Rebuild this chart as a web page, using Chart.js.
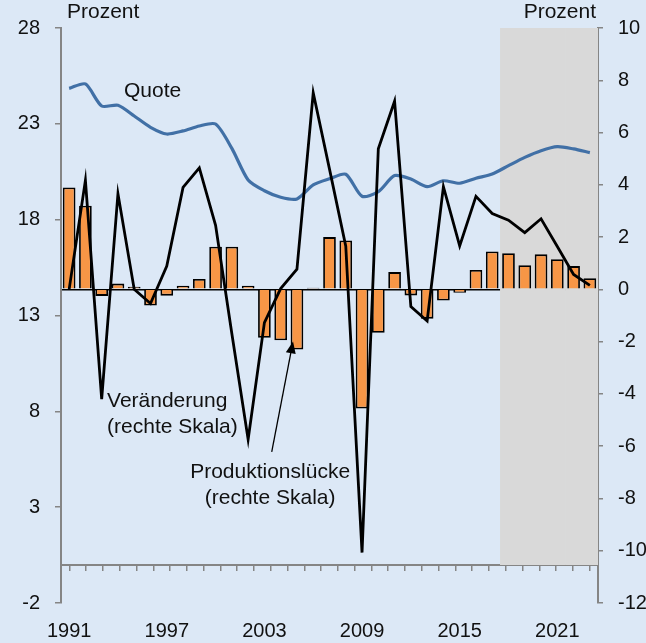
<!DOCTYPE html>
<html>
<head>
<meta charset="utf-8">
<script src="https://cdn.jsdelivr.net/npm/chart.js@4"></script>
<style>
  body { margin: 0; background: #dce8f6; overflow: hidden; }
</style>
</head>
<body>
<canvas id="myChart" width="646" height="643"></canvas>
<script>

// years on the x axis
const years = ['1991','1992','1993','1994','1995','1996','1997','1998','1999','2000',
  '2001','2002','2003','2004','2005','2006','2007','2008','2009','2010',
  '2011','2012','2013','2014','2015','2016','2017','2018','2019','2020',
  '2021','2022','2023'];

// only these get a label
const yearLabels = ['1991','1997','2003','2009','2015','2021'];

// Quote (left scale, Prozent)
const quote = [24.85, 25.08, 23.93, 23.97, 23.41, 22.82, 22.47, 22.63, 22.89, 22.99,
  21.72, 20.07, 19.51, 19.17, 19.08, 19.81, 20.13, 20.37, 19.22, 19.46,
  20.30, 20.12, 19.72, 20.03, 19.90, 20.16, 20.38, 20.82, 21.25, 21.60,
  21.81, 21.69, 21.50];

// Veränderung (right scale)
const change = [0.0, 4.17, -4.2, 3.66, 0.0, -0.54, 0.89, 3.9, 4.65, 2.45,
  -1.7, -5.74, -1.27, 0.03, 0.77, 7.52, 4.6, 1.65, -10.07, 5.38,
  7.2, -0.66, -1.21, 3.93, 1.66, 3.56, 2.9, 2.65, 2.17, 2.7,
  1.64, 0.57, 0.15];

// Produktionslücke (right scale)
const gap = [3.9, 3.2, -0.25, 0.22, 0.1, -0.62, -0.24, 0.14, 0.4, 1.63,
  1.63, 0.14, -1.85, -1.95, -2.3, 0.06, 2.0, 1.87, -4.56, -1.66,
  0.66, -0.23, -1.12, -0.43, -0.13, 0.74, 1.45, 1.38, 0.92, 1.34,
  1.15, 0.89, 0.43];

// forecast years are shaded grey
const forecastFrom = '2018';

const leftTicks = {min: -2, max: 28, step: 5};
const rightTicks = {min: -12, max: 10, step: 2};

const FONT = "'Liberation Sans', Arial, sans-serif";
const TXT = '#111';
const AXIS = '#858585';

// shade goes from 0 up to the top of the left scale
const shade = years.map(y => (y >= forecastFrom ? leftTicks.max : null));

// text notes, placed by category index + value of a scale
const notes = [
  {lines: ['Quote'], xi: 3.37, v: 24.71, axis: 'y', align: 'left'},
  {lines: ['Veränderung', '(rechte Skala)'], xi: 2.33, v: -4.28, axis: 'y1', align: 'left'},
  {lines: ['Produktionslücke', '(rechte Skala)'], xi: 12.35, v: -7.0, axis: 'y1', align: 'center'}
];
const arrow = {from: [12.45, -6.22], to: [13.76, -1.99], axis: 'y1'};

const notesPlugin = {
  id: 'notes',
  afterDatasetsDraw(chart) {
    const ctx = chart.ctx;
    const x = chart.scales.x;
    const area = chart.chartArea;
    ctx.save();
    ctx.fillStyle = TXT;
    ctx.font = '21px ' + FONT;
    ctx.textBaseline = 'middle';

    // axis titles
    ctx.textAlign = 'left';
    ctx.fillText('Prozent', area.left + 6, area.top - 16);
    ctx.textAlign = 'right';
    ctx.fillText('Prozent', area.right - 2, area.top - 16);

    notes.forEach(n => {
      const px = x.getPixelForValue(n.xi);
      const py = chart.scales[n.axis].getPixelForValue(n.v);
      ctx.textAlign = n.align;
      n.lines.forEach((t, i) => ctx.fillText(t, px, py + i * 26));
    });

    // arrow to the bars
    const s = chart.scales[arrow.axis];
    const x1 = x.getPixelForValue(arrow.from[0]), y1 = s.getPixelForValue(arrow.from[1]);
    const x2 = x.getPixelForValue(arrow.to[0]), y2 = s.getPixelForValue(arrow.to[1]);
    const a = Math.atan2(y2 - y1, x2 - x1);
    ctx.strokeStyle = '#000';
    ctx.lineWidth = 1.3;
    ctx.beginPath();
    ctx.moveTo(x1, y1);
    ctx.lineTo(x2 - 10 * Math.cos(a), y2 - 10 * Math.sin(a));
    ctx.stroke();
    ctx.fillStyle = '#000';
    ctx.beginPath();
    ctx.moveTo(x2, y2);
    ctx.lineTo(x2 - 12 * Math.cos(a) + 5 * Math.sin(a), y2 - 12 * Math.sin(a) - 5 * Math.cos(a));
    ctx.lineTo(x2 - 12 * Math.cos(a) - 5 * Math.sin(a), y2 - 12 * Math.sin(a) + 5 * Math.cos(a));
    ctx.closePath();
    ctx.fill();
    ctx.restore();
  }
};

const c = new Chart(document.getElementById('myChart'), {
  data: {
    labels: years,
    datasets: [
      {
        type: 'line',
        label: 'Veränderung',
        data: change,
        yAxisID: 'y1',
        borderColor: '#000',
        borderWidth: 2.8,
        pointRadius: 0,
        tension: 0,
        order: 0
      },
      {
        type: 'line',
        label: 'Quote',
        data: quote,
        yAxisID: 'y',
        borderColor: '#4170a6',
        borderWidth: 3.2,
        pointRadius: 0,
        tension: 0.25,
        order: 1
      },
      {
        type: 'bar',
        label: 'Produktionslücke',
        data: gap,
        yAxisID: 'y1',
        backgroundColor: '#f79646',
        borderColor: '#000',
        borderWidth: 1.8,
        barPercentage: 0.78,
        categoryPercentage: 1,
        order: 2
      },
      {
        type: 'bar',
        label: 'Prognose',
        data: shade,
        yAxisID: 'y',
        backgroundColor: '#d9d9d9',
        borderWidth: 0,
        grouped: false,
        barPercentage: 1,
        categoryPercentage: 1,
        order: 3
      }
    ]
  },
  options: {
    responsive: false,
    animation: false,
    devicePixelRatio: 1,
    layout: { padding: { top: 28, left: 0, right: 0, bottom: 0 } },
    plugins: {
      legend: { display: false },
      tooltip: { enabled: false }
    },
    scales: {
      x: {
        type: 'category',
        position: 'bottom',
        grid: { display: false, drawTicks: false },
        border: { display: false },
        ticks: {
          autoSkip: false,
          maxRotation: 0,
          padding: 16,
          color: TXT,
          font: { family: FONT, size: 20 },
          callback: function(val) {
            const lab = this.getLabelForValue(val);
            return yearLabels.includes(lab) ? lab : '';
          }
        },
        afterFit: (scale) => { scale.height = 40; }
      },
      x2: {
        type: 'category',
        position: { y: 0 },
        grid: { display: true, drawOnChartArea: false, drawTicks: true, tickLength: 5, color: AXIS, offset: true, lineWidth: 1.5 },
        border: { display: true, color: AXIS, width: 2 },
        ticks: { display: false }
      },
      y: {
        position: 'left',
        min: leftTicks.min,
        max: leftTicks.max,
        grid: { drawOnChartArea: false, tickLength: 6, color: AXIS, lineWidth: 1.5 },
        border: { color: AXIS, width: 2 },
        ticks: {
          stepSize: leftTicks.step,
          padding: 15,
          color: TXT,
          font: { family: FONT, size: 20 }
        },
        afterFit: (scale) => { scale.width = 61; }
      },
      y1: {
        position: 'right',
        min: rightTicks.min,
        max: rightTicks.max,
        grid: {
          drawOnChartArea: true,
          tickLength: 5,
          lineWidth: 1.5,
          tickColor: AXIS,
          color: (ctx) => (ctx.tick && ctx.tick.value === 0 ? '#000' : 'rgba(0,0,0,0)')
        },
        border: { color: AXIS, width: 2 },
        ticks: {
          stepSize: rightTicks.step,
          padding: 15,
          color: TXT,
          font: { family: FONT, size: 20 }
        },
        afterFit: (scale) => { scale.width = 48; }
      }
    }
  },
  plugins: [notesPlugin]
});
</script>
</body>
</html>
